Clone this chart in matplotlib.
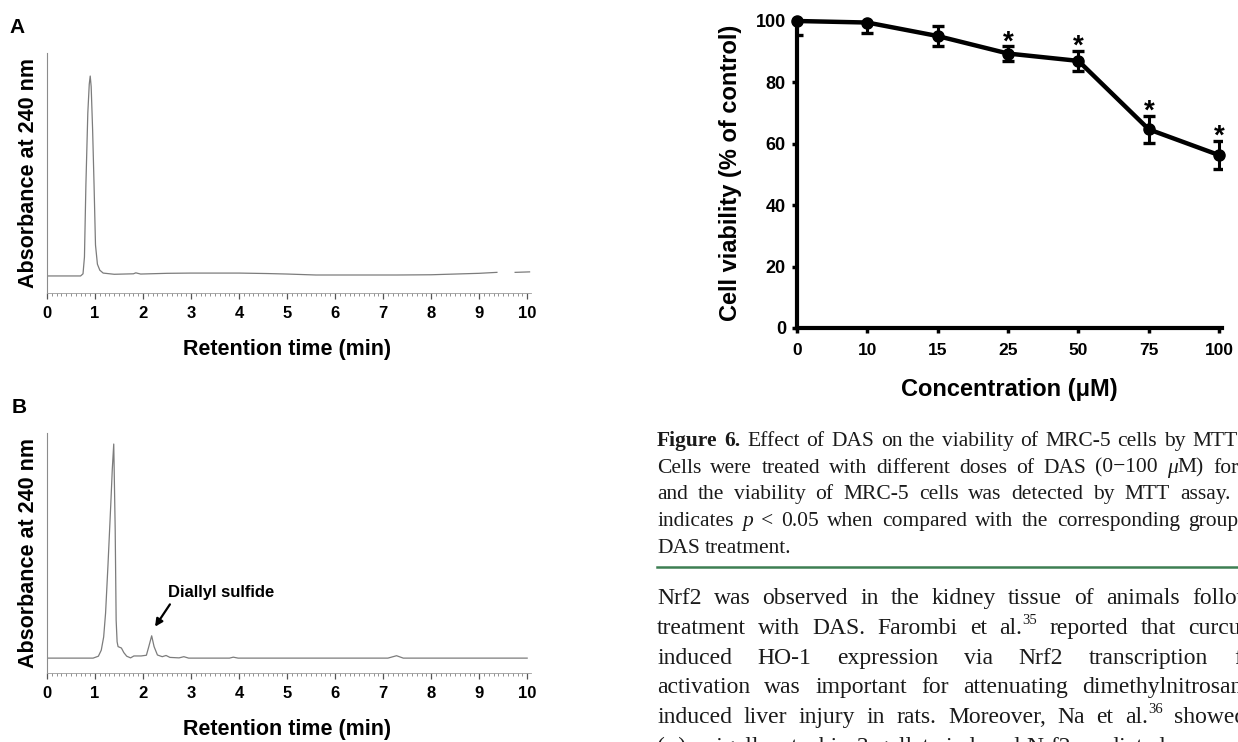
import re

import numpy as np
import matplotlib
matplotlib.use("Agg")
import matplotlib.pyplot as plt
from matplotlib.lines import Line2D
from matplotlib.ticker import MultipleLocator


W, H = 1238, 742

SANS = "Liberation Sans"
SERIF = "Liberation Serif"

# HPLC trace A (DAS standard), retention time (min) vs absorbance (a.u.)
a_time = [0.0, 0.70, 0.75, 0.78, 0.81, 0.85, 0.88, 0.90, 0.92, 0.95,
          0.98, 1.01, 1.05, 1.10, 1.17, 1.40, 1.80, 1.85, 1.95, 2.50,
          3.00, 4.00, 4.60, 5.00, 5.60, 6.50, 7.30, 8.00, 8.50, 9.00,
          9.37]
a_abs = [7.1, 7.1, 8.0, 15, 45, 75, 87, 90.4, 86, 68,
         45, 20, 12, 9.5, 8.3, 7.8, 8.0, 8.4, 7.9, 8.2,
         8.3, 8.3, 8.1, 7.9, 7.5, 7.5, 7.5, 7.6, 7.9, 8.2,
         8.6]
a_tail_time = [9.75, 10.05]
a_tail_abs = [8.6, 8.8]

# HPLC trace B (sample)
b_time = [0.0, 0.96, 1.07, 1.13, 1.18, 1.22, 1.27, 1.33, 1.36, 1.39,
          1.42, 1.44, 1.46, 1.48, 1.55, 1.60, 1.66, 1.74, 1.81, 1.96,
          2.07, 2.12, 2.18, 2.23, 2.30, 2.40, 2.48, 2.56, 2.75, 2.85,
          2.95, 3.20, 3.80, 3.88, 3.98, 7.10, 7.28, 7.42, 10.0]
b_abs = [6.2, 6.2, 7.0, 9.5, 15, 25, 45, 71, 85, 95.4,
         60, 22, 13, 11, 10.4, 8.5, 7.0, 6.3, 7.1, 7.1,
         7.4, 11, 15.5, 11, 7.5, 6.8, 7.3, 6.5, 6.3, 6.8,
         6.2, 6.2, 6.2, 6.6, 6.2, 6.2, 7.2, 6.2, 6.2]
peak_label = "Diallyl sulfide"
peak_label_pos = (2.52, 33.6)
peak_arrow_tail = (2.56, 28.6)
peak_arrow_head = (2.25, 19.3)

# MTT assay
conc_labels = ["0", "10", "15", "25", "50", "75", "100"]
viability = [100, 99.5, 95.1, 89.4, 87.0, 64.7, 56.3]
viability_sd = [4.6, 3.5, 3.4, 2.3, 3.3, 4.5, 4.5]
significant = [False, False, False, True, True, True, True]

# page text (cut at the right edge of the scan)
caption_lines = [
    "**Figure** **6.** Effect of DAS on the viability of MRC-5 cells by MTT assay.",
    "Cells were treated with different doses of DAS (0\u2212100 //\u03bc//M) for 24 h,",
    "and the viability of MRC-5 cells was detected by MTT assay. *",
    "indicates //p// < 0.05 when compared with the corresponding group without",
    "DAS treatment.",
]
caption_anchors = [("MTT", 1192), ("for", 1213), ("assay.", 1180), ("group", 1188), None]

body_lines = [
    "Nrf2 was observed in the kidney tissue of animals following",
    "treatment with DAS. Farombi et al.^^35^^ reported that curcumin",
    "induced HO-1 expression via Nrf2 transcription factor",
    "activation was important for attenuating dimethylnitrosamine-",
    "induced liver injury in rats. Moreover, Na et al.^^36^^ showed that",
    "(\u2212)-epigallocatechin-3-gallate induced Nrf2-mediated",
]
body_anchors = [("following", 1192), ("curcumin", 1188), ("factor", 1234),
                ("dimethylnitrosamine-", 1082), ("showed", 1174), None]

TOKEN = re.compile(r"\*\*(.+?)\*\*|//(.+?)//|\^\^(.+?)\^\^")


def px_box(left, top, right, bottom):
    return [left / W, 1 - bottom / H, (right - left) / W, (bottom - top) / H]


def parse_word(word):
    parts, pos = [], 0
    for m in TOKEN.finditer(word):
        if m.start() > pos:
            parts.append((word[pos:m.start()], "r"))
        b, i, s = m.groups()
        parts.append((b, "b") if b else (i, "i") if i else (s, "s"))
        pos = m.end()
    if pos < len(word):
        parts.append((word[pos:], "r"))
    return parts


def part_style(style, size):
    kw = dict(family=SERIF, fontsize=size)
    if style == "b":
        kw["fontweight"] = "bold"
    elif style == "i":
        kw["fontstyle"] = "italic"
    elif style == "s":
        kw["fontsize"] = size * 0.62
    return kw


def set_line(fig, renderer, line, left, baseline, size, anchor):
    words = [parse_word(w) for w in line.split(" ")]
    widths = []
    for word in words:
        ws = []
        for txt, st in word:
            t = fig.text(0, 0, txt, **part_style(st, size))
            ws.append(t.get_window_extent(renderer).width)
            t.remove()
        widths.append(ws)
    word_w = [sum(ws) for ws in widths]
    gap = size * 0.25 * 100 / 72
    if anchor is not None:
        k = line.split(" ").index(anchor[0])
        gap = (anchor[1] - left - sum(word_w[:k])) / k
    x = left
    for word, ws in zip(words, widths):
        for (txt, st), w in zip(word, ws):
            # the scan is cropped at the right edge: words past it are not seen
            if x < W - 2:
                y = baseline - (size * 0.42 * 100 / 72 if st == "s" else 0)
                fig.text(x / W, 1 - y / H, txt, ha="left", va="baseline",
                         color="#1a1a1a", **part_style(st, size))
            x += w
        x += gap


def chromatogram(fig, top, t, a, tails=()):
    ax = fig.add_axes(px_box(47, top, 531, top + 240))
    ax.plot(t, a, color="#7c7c7c", lw=0.9)
    for tt, aa in tails:
        ax.plot(tt, aa, color="#7c7c7c", lw=0.9)
    ax.set_xlim(0, 10.08)
    ax.set_ylim(0, 100)
    ax.spines["top"].set_visible(False)
    ax.spines["right"].set_visible(False)
    ax.spines["left"].set_color("#8c8c8c")
    ax.spines["left"].set_linewidth(0.8)
    ax.spines["bottom"].set_color("#9a9a9a")
    ax.spines["bottom"].set_linewidth(0.6)
    ax.set_yticks([])
    ax.xaxis.set_major_locator(MultipleLocator(1))
    ax.xaxis.set_minor_locator(MultipleLocator(0.1))
    ax.tick_params(axis="x", which="major", length=4.5, width=0.9,
                   color="#555555", pad=4.5, labelsize=12)
    ax.tick_params(axis="x", which="minor", length=2.5, width=0.6,
                   color="#808080")
    for lab in ax.get_xticklabels():
        lab.set_fontweight("bold")
        lab.set_family(SANS)
    fig.text(29 / W, 1 - (top + 120) / H, "Absorbance at 240 nm", rotation=90,
             ha="center", va="center", fontsize=15.5, fontweight="bold",
             family=SANS)
    fig.text(287 / W, 1 - (top + 297) / H, "Retention time (min)",
             ha="center", va="center", fontsize=15.5, fontweight="bold",
             family=SANS)
    return ax


fig = plt.figure(figsize=(W / 100, H / 100), dpi=100)
renderer = fig.canvas.get_renderer()

# panel A
chromatogram(fig, 53, a_time, a_abs, tails=[(a_tail_time, a_tail_abs)])
fig.text(17.5 / W, 1 - 33 / H, "A", ha="center", va="baseline",
         fontsize=15, fontweight="bold", family=SANS)

# panel B
ax_b = chromatogram(fig, 433, b_time, b_abs)
fig.text(19 / W, 1 - 413 / H, "B", ha="center", va="baseline",
         fontsize=15, fontweight="bold", family=SANS)
ax_b.text(*peak_label_pos, peak_label, ha="left", va="center",
          fontsize=12, fontweight="bold", family=SANS)
ax_b.annotate("", xy=peak_arrow_head, xytext=peak_arrow_tail,
              arrowprops=dict(arrowstyle="-|>", color="black", lw=1.6,
                              mutation_scale=11, shrinkA=0, shrinkB=0))

# MTT viability chart
ax = fig.add_axes(px_box(797, 21, 1222, 328))
x = np.arange(len(conc_labels))
ax.errorbar(x, viability, yerr=viability_sd, fmt="none", ecolor="black",
            elinewidth=2.2, capsize=4.6, capthick=2.4, zorder=2)
ax.plot(x, viability, color="black", lw=3.2, marker="o", ms=8,
        clip_on=False, zorder=3)
for xi, v, e, sig in zip(x, viability, viability_sd, significant):
    if sig:
        ax.annotate("*", xy=(xi, v + e), xytext=(0, -2),
                    textcoords="offset points", ha="center", va="baseline",
                    fontsize=20, fontweight="bold", family=SANS)
ax.set_xlim(0, 6.04)
ax.set_ylim(0, 100)
ax.set_xticks(x)
ax.set_xticklabels(conc_labels)
ax.set_yticks(np.arange(0, 101, 20))
for s in ("top", "right"):
    ax.spines[s].set_visible(False)
for s in ("left", "bottom"):
    ax.spines[s].set_linewidth(3)
ax.tick_params(axis="y", length=3.5, width=2.5, pad=4.5, labelsize=13)
ax.tick_params(axis="x", length=3.5, width=2.5, pad=7, labelsize=12.5)
for lab in ax.get_xticklabels() + ax.get_yticklabels():
    lab.set_fontweight("bold")
    lab.set_family(SANS)
fig.text(730 / W, 1 - 173 / H, "Cell viability (% of control)", rotation=90,
         ha="center", va="center", fontsize=17, fontweight="bold", family=SANS)
fig.text(1009 / W, 1 - 390 / H, "Concentration (\u03bcM)", ha="center",
         va="center", fontsize=17, fontweight="bold", family=SANS)

# caption and body text
for i, (line, anchor) in enumerate(zip(caption_lines, caption_anchors)):
    set_line(fig, renderer, line, 657, 446 + i * 26.7, 15.5, anchor)

fig.add_artist(Line2D([657 / W, 1.0], [1 - 567 / H] * 2, color="#3d7f52",
                      lw=1.8, transform=fig.transFigure))

for i, (line, anchor) in enumerate(zip(body_lines, body_anchors)):
    set_line(fig, renderer, line, 657, 604 + i * 29.8, 17, anchor)

fig.savefig("out.png", dpi=100)
